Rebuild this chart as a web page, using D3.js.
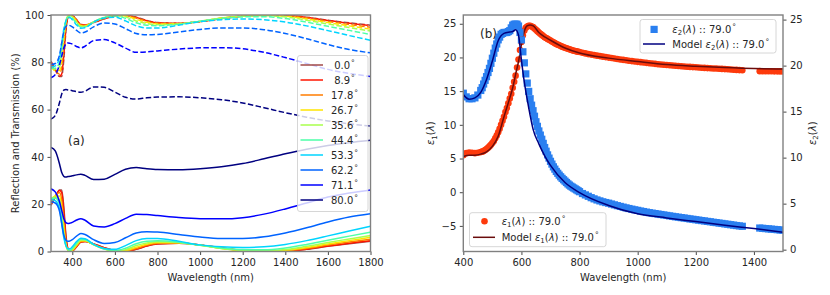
<!DOCTYPE html>
<html>
<head>
<meta charset="utf-8">
<script src="https://cdnjs.cloudflare.com/ajax/libs/d3/7.8.5/d3.min.js"></script>
<style>
body { margin: 0; background: #fff; }
svg { font-family: "DejaVu Sans", sans-serif; font-size: 10px; }
svg text { fill: #262626; }
</style>
</head>
<body>
<svg id="chart" width="830" height="295"></svg>
<script>
// ---------- panel (a): reflection / transmission vs wavelength ----------
var wavelengths = [300, 320, 340, 350, 360, 370, 380, 390, 400, 420, 440, 460, 500, 550, 600, 650, 700, 750, 800, 900, 1000, 1100, 1200, 1300, 1400, 1500, 1600, 1700, 1800];
var angles = [" 0.0", " 8.9", "17.8", "26.7", "35.6", "44.4", "53.3", "62.2", "71.1", "80.0"];
var angleColors = ["#a24a48", "#ff1400", "#ff7d00", "#ffe500", "#a9ff4d", "#4dffa9", "#00d4ff", "#0063ff", "#0000ff", "#000080"];

// transmission (solid)
var trans0  = [19.5, 23, 26, 26, 19, 7, 1, 0, 0.2, 2, 4, 4.2, 3.2, 1.6, 0.4, 0.1, 0.9, 2.3, 3.2, 3.5, 2.8, 1.5, 0.5, 0, 0.1, 0.9, 2.2, 3.3, 4.3];
var trans9  = [20, 23, 25.8, 25, 17, 6, 1, 0, 0.2, 2, 4, 4.2, 3.2, 1.6, 0.4, 0.1, 1, 2.4, 3.3, 3.5, 2.8, 1.5, 0.5, 0.05, 0.1, 1, 2.3, 3.5, 4.5];
var trans18 = [21, 23.5, 25, 22, 13, 4, 0.7, 0, 0.3, 2.3, 4.2, 4.3, 3, 1.3, 0.1, 0.2, 1.3, 2.7, 3.5, 3.6, 2.7, 1.4, 0.4, 0, 0.3, 1.3, 2.7, 4, 5.2];
var trans27 = [22, 23.5, 23.5, 19, 10, 3, 0.5, 0, 0.5, 2.6, 4.5, 4.5, 2.9, 1.1, 0.1, 0.4, 1.8, 3.1, 3.8, 3.7, 2.7, 1.3, 0.4, 0.1, 0.5, 1.7, 3.2, 4.6, 6];
var trans36 = [22, 23, 22, 16, 8, 2.5, 0.5, 0.2, 0.8, 3, 4.8, 4.8, 2.8, 1, 0.2, 0.8, 2.5, 3.6, 4.1, 3.8, 2.6, 1.3, 0.5, 0.3, 0.8, 2.2, 3.8, 5.3, 6.8];
var trans44 = [22.5, 22.5, 20, 14, 7, 2.5, 0.8, 0.6, 1.3, 3.6, 5.2, 5.1, 3, 1, 0.4, 1.4, 3.3, 4.3, 4.5, 3.9, 2.6, 1.5, 0.8, 0.7, 1.5, 3, 4.8, 6.5, 8.2];
var trans53 = [22, 21.5, 18, 12, 6, 2.5, 1.2, 1.2, 2, 4.2, 5.6, 5.4, 3, 1.3, 0.9, 2.5, 4.6, 5.5, 5.5, 4.3, 2.8, 2, 1.7, 2, 3, 4.6, 6.6, 8.7, 10.7];
var trans62 = [21, 20.5, 17, 12, 7, 4.8, 4.3, 4.5, 5, 6.5, 7.6, 7.2, 5, 3.4, 3.8, 5.8, 7.8, 8.4, 8.2, 7.2, 6.1, 5.5, 5.5, 6.2, 7.8, 10, 12.5, 14.6, 16];
var trans71 = [26.5, 25.2, 21, 17.5, 14, 12.2, 11.8, 12, 12.3, 13.3, 13.9, 13.2, 10.8, 10.4, 11.8, 14, 15.8, 15.6, 15.2, 14.4, 13.9, 13.8, 14.3, 15.8, 18, 20.5, 23, 24.7, 26];
var trans80 = [44, 42.5, 37, 33.5, 31.8, 31.5, 31.7, 31.8, 32, 32.4, 32.7, 32.2, 30.4, 30.6, 32.6, 34.8, 35.5, 35, 34.7, 34.6, 35, 35.8, 37.2, 39.2, 41.3, 43.2, 44.8, 46, 47];

// reflection (dashed)
var refl0  = [80.5, 77, 74, 74, 81, 93, 99, 100, 99.8, 98, 96, 95.8, 96.8, 98.4, 99.6, 99.9, 99.1, 97.7, 96.8, 96.5, 97.2, 98.5, 99.5, 100, 99.9, 99.1, 97.8, 96.7, 95.7];
var refl9  = [80, 77, 74.2, 75, 83, 94, 99, 100, 99.8, 98, 96, 95.8, 96.8, 98.4, 99.6, 99.9, 99, 97.6, 96.7, 96.5, 97.2, 98.5, 99.5, 99.95, 99.9, 99, 97.7, 96.5, 95.5];
var refl18 = [79, 76.5, 75, 78, 87, 96, 99.3, 100, 99.7, 97.7, 95.8, 95.7, 97, 98.7, 99.9, 99.8, 98.7, 97.3, 96.5, 96.4, 97.3, 98.6, 99.6, 100, 99.7, 98.7, 97.3, 96, 94.8];
var refl27 = [78, 76.5, 76.5, 81, 90, 97, 99.5, 100, 99.5, 97.4, 95.5, 95.5, 97.1, 98.9, 99.9, 99.6, 98.2, 96.9, 96.2, 96.3, 97.3, 98.7, 99.6, 99.9, 99.5, 98.3, 96.8, 95.4, 94];
var refl36 = [78, 77, 78, 84, 92, 97.5, 99.5, 99.8, 99.2, 97, 95.2, 95.2, 97.2, 99, 99.8, 99.2, 97.5, 96.4, 95.9, 96.2, 97.4, 98.7, 99.5, 99.7, 99.2, 97.8, 96.2, 94.7, 93.2];
var refl44 = [77.5, 77.5, 80, 86, 93, 97.5, 99.2, 99.4, 98.7, 96.4, 94.8, 94.9, 97, 99, 99.6, 98.6, 96.7, 95.7, 95.5, 96.1, 97.4, 98.5, 99.2, 99.3, 98.5, 97, 95.2, 93.5, 91.8];
var refl53 = [78, 78.5, 82, 88, 94, 97.5, 98.8, 98.8, 98, 95.8, 94.4, 94.6, 97, 98.7, 99.1, 97.5, 95.4, 94.5, 94.5, 95.7, 97.2, 98, 98.3, 98, 97, 95.4, 93.4, 91.3, 89.3];
var refl62 = [79, 79.5, 83, 88, 93, 95.2, 95.7, 95.5, 95, 93.5, 92.4, 92.8, 95, 96.6, 96.2, 94.2, 92.2, 91.6, 91.8, 92.8, 93.9, 94.5, 94.5, 93.8, 92.2, 90, 87.5, 85.4, 84];
var refl71 = [73.5, 74.8, 79, 82.5, 86, 87.8, 88.2, 88, 87.7, 86.7, 86.1, 86.8, 89.2, 89.6, 88.2, 86, 84.2, 84.4, 84.8, 85.6, 86.1, 86.2, 85.7, 84.2, 82, 79.5, 77, 75.3, 74];
var refl80 = [56, 57.5, 63, 66.5, 68.2, 68.5, 68.3, 68.2, 68, 67.6, 67.3, 67.8, 69.6, 69.4, 67.4, 65.2, 64.5, 65, 65.3, 65.4, 65, 64.2, 62.8, 60.8, 58.7, 56.8, 55.2, 54, 53];

var transmission = [trans0, trans9, trans18, trans27, trans36, trans44, trans53, trans62, trans71, trans80];
var reflection = [refl0, refl9, refl18, refl27, refl36, refl44, refl53, refl62, refl71, refl80];
var ticksA = [400, 600, 800, 1000, 1200, 1400, 1600, 1800];

// ---------- panel (b): dielectric function ----------
var measWl = [400, 410, 420, 430, 440, 450, 460,
  465, 470, 475, 480, 485, 490, 495, 500, 505, 510, 515, 520, 525, 530, 535, 540,
  545, 550, 555, 560, 565, 570, 575, 580, 585, 590, 595, 600, 605, 610, 615, 620, 625, 630, 635, 640, 645, 650, 655, 660,
  665, 670, 675, 680, 685, 690, 695, 700, 705, 710, 715, 720, 725, 730, 735, 740, 745, 750, 755, 760, 765, 770, 775, 780, 785, 790, 795, 800,
  810, 820, 830, 840, 850, 860, 870,
  880, 890, 900, 910, 920, 930, 940, 950, 960, 970, 980, 990, 1000, 1010, 1020, 1030, 1040, 1050, 1060, 1070, 1080, 1090,
  1100, 1110, 1120, 1130, 1140, 1150, 1160, 1170, 1180, 1190, 1200, 1210, 1220, 1230, 1240, 1250, 1260, 1270, 1280, 1290,
  1300, 1310, 1320, 1330, 1340, 1350, 1360,
  1420, 1430, 1440, 1450, 1460, 1470, 1480, 1490, 1500];
var measEps1 = [5.5, 5.8, 5.9, 5.85, 5.8, 5.85, 5.95,
  6.02, 6.1, 6.25, 6.4, 6.6, 6.8, 7.05, 7.3, 7.6, 8.0, 8.4, 8.9, 9.4, 10.0, 10.6, 11.2,
  11.9, 12.5, 13.2, 13.9, 14.6, 15.5, 16.4, 17.3, 18.5, 19.7, 21.1, 22.3, 23.3, 24.0, 24.4, 24.6, 24.7, 24.7, 24.6, 24.5, 24.3, 24.1, 23.9, 23.7,
  23.52, 23.35, 23.17, 23.0, 22.87, 22.75, 22.62, 22.5, 22.37, 22.25, 22.12, 22.0, 21.9, 21.8, 21.7, 21.6, 21.52, 21.45, 21.37, 21.3, 21.22, 21.15, 21.07, 21.0, 20.95, 20.9, 20.85, 20.8,
  20.7, 20.6, 20.5, 20.42, 20.35, 20.27, 20.2,
  20.12, 20.05, 19.98, 19.91, 19.84, 19.77, 19.7, 19.64, 19.58, 19.52, 19.46, 19.4, 19.35, 19.3, 19.25, 19.2, 19.15, 19.1, 19.05, 19.0, 18.96, 18.92,
  18.88, 18.84, 18.8, 18.76, 18.72, 18.69, 18.66, 18.63, 18.6, 18.57, 18.54, 18.51, 18.48, 18.45, 18.42, 18.4, 18.37, 18.35, 18.32, 18.3,
  18.27, 18.24, 18.21, 18.18, 18.15, 18.12, 18.1,
  17.97, 17.96, 17.96, 17.95, 17.95, 17.94, 17.94, 17.93, 17.93];
var measEps2 = [17.0, 16.6, 16.4, 16.4, 16.5, 16.8, 17.3,
  17.6, 18.0, 18.4, 18.8, 19.25, 19.7, 20.25, 20.8, 21.35, 21.9, 22.35, 22.8, 23.1, 23.4, 23.5, 23.6,
  23.6, 23.6, 23.7, 23.8, 24.1, 24.4, 24.5, 24.5, 24.5, 24.3, 23.6, 22.8, 21.5, 20.3, 19.1, 18.1, 17.2, 16.4, 15.7, 15.1, 14.5, 13.9, 13.4, 12.9,
  12.45, 12.0, 11.55, 11.1, 10.7, 10.3, 9.95, 9.6, 9.3, 9.0, 8.75, 8.5, 8.3, 8.1, 7.92, 7.75, 7.6, 7.45, 7.3, 7.15, 7.02, 6.9, 6.8, 6.7, 6.6, 6.5, 6.4, 6.3,
  6.1, 5.95, 5.8, 5.65, 5.52, 5.4, 5.3,
  5.2, 5.12, 5.05, 4.96, 4.87, 4.78, 4.7, 4.62, 4.54, 4.47, 4.4, 4.33, 4.27, 4.2, 4.14, 4.08, 4.02, 3.97, 3.92, 3.87, 3.82, 3.77,
  3.72, 3.67, 3.62, 3.57, 3.53, 3.48, 3.44, 3.39, 3.34, 3.3, 3.25, 3.21, 3.16, 3.12, 3.07, 3.03, 2.98, 2.94, 2.89, 2.85,
  2.8, 2.76, 2.71, 2.67, 2.62, 2.58, 2.54,
  2.35, 2.32, 2.29, 2.26, 2.23, 2.2, 2.17, 2.14, 2.11];

var modelWl = [400, 420, 440, 460, 480, 500, 520, 540, 560, 570, 580, 590, 600, 610, 620, 630, 640, 660, 680, 700, 750, 800, 900, 1000, 1100, 1200, 1300, 1400, 1500];
var modelEps1 = [5.3, 5.5, 5.5, 5.65, 6.0, 6.8, 8.3, 11.2, 14.0, 15.5, 17.5, 19.4, 21.9, 23.9, 24.7, 24.8, 24.7, 23.7, 23.05, 22.55, 21.4, 20.65, 19.9, 19.4, 18.95, 18.7, 18.5, 18.35, 18.3];
var modelEps2 = [16.85, 16.35, 16.5, 17.1, 18.5, 20.5, 22.7, 23.5, 23.65, 23.7, 23.9, 23.3, 20.6, 18.2, 16.3, 14.6, 13.1, 11.5, 10.2, 9.15, 7.3, 6.2, 4.8, 3.9, 3.45, 3.05, 2.65, 2.3, 1.9];
var ticksB = [400, 600, 800, 1000, 1200, 1400];
var ticksEps1 = [-5, 0, 5, 10, 15, 20, 25];
var ticksEps2 = [0, 5, 10, 15, 20, 25];

var eps1Color = "#fd3a0c", eps2Color = "#2a7ff0";
var model1Color = "#6a0c0c", model2Color = "#000080";

var svg = d3.select("#chart");
var spineColor = "#808080";

function styleAxis(sel) {
    sel.attr("font-family", null).attr("font-size", null);
    sel.select(".domain").remove();
    sel.selectAll(".tick line").attr("stroke", "#333").attr("stroke-width", 0.9);
    sel.selectAll(".tick text").attr("fill", "#262626");
}

function frame(g, w, h) {
    g.append("rect").attr("width", w).attr("height", h)
     .attr("fill", "none").attr("stroke", spineColor).attr("stroke-width", 1.4);
}

// write a label made of pieces: [text, kind] where kind is "", "it", "sub", "sup"
function richText(t, parts) {
    var shift = 0;
    parts.forEach(function(p) {
        var s = t.append("tspan").text(p[0]);
        var target = 0;
        if(p[1] == "it") s.attr("font-style", "italic");
        if(p[1] == "sub") { s.attr("font-size", 7); target = 2.5; }
        if(p[1] == "sup") { s.attr("font-size", 7.5).attr("dx", 1); target = -3.5; }
        if(target != shift) s.attr("dy", target - shift);
        shift = target;
    });
    return t;
}

function epsParts(n, extra) {
    var parts = extra ? [[extra, ""]] : [];
    return parts.concat([["ε", "it"], [String(n), "sub"], ["(", ""], ["λ", "it"], [")", ""]]);
}

// ================= panel (a) =================
var aLeft = 51, aTop = 15, aW = 319.5, aH = 236.5;
var xA = d3.scaleLinear().domain([300, 1800]).range([0, aW]);
var yA = d3.scaleLinear().domain([0, 100]).range([aH, 0]);
var pa = svg.append("g").attr("transform", "translate(" + aLeft + "," + aTop + ")");

svg.append("clipPath").attr("id", "clipA").append("rect").attr("width", aW).attr("height", aH);

var lineA = d3.line()
    .x(function(d, i) { return xA(wavelengths[i]); })
    .y(function(d) { return yA(d); })
    .curve(d3.curveMonotoneX);

var linesA = pa.append("g").attr("clip-path", "url(#clipA)");
angles.forEach(function(a, k) {
    linesA.append("path").attr("d", lineA(reflection[k]))
        .attr("fill", "none").attr("stroke", angleColors[k]).attr("stroke-width", 1.5)
        .attr("stroke-dasharray", "5.5,2.4");
    linesA.append("path").attr("d", lineA(transmission[k]))
        .attr("fill", "none").attr("stroke", angleColors[k]).attr("stroke-width", 1.5);
});

pa.append("g").attr("transform", "translate(0," + aH + ")")
  .call(d3.axisBottom(xA).tickValues(ticksA).tickFormat(d3.format("d")).tickSize(3.5).tickPadding(3.5).tickSizeOuter(0))
  .call(styleAxis);
pa.append("g")
  .call(d3.axisLeft(yA).tickValues([0, 20, 40, 60, 80, 100]).tickSize(3.5).tickPadding(3.5).tickSizeOuter(0))
  .call(styleAxis);
frame(pa, aW, aH);

pa.append("text").attr("x", aW / 2).attr("y", 266).attr("text-anchor", "middle").text("Wavelength (nm)");
svg.append("text").attr("transform", "translate(18.6," + (aTop + aH / 2) + ") rotate(-90)")
   .attr("text-anchor", "middle").text("Reflection and Transmission (%)");
svg.append("text").attr("x", 68).attr("y", 145).attr("font-size", 12).text("(a)");

// legend (a)
var legA = svg.append("g");
legA.append("rect").attr("x", 297.5).attr("y", 55.5).attr("width", 70.5).attr("height", 156)
    .attr("rx", 2.5).attr("fill", "#fff").attr("fill-opacity", 0.8)
    .attr("stroke", "#cccccc").attr("stroke-width", 0.8);
angles.forEach(function(a, k) {
    var cy = 65 + 15 * k;
    legA.append("line").attr("x1", 300.5).attr("x2", 323).attr("y1", cy).attr("y2", cy)
        .attr("stroke", angleColors[k]).attr("stroke-width", 1.5);
    var t = legA.append("text").attr("x", 331).attr("y", cy + 3.6).style("white-space", "pre");
    richText(t, [[a, ""], ["°", "sup"]]);
});

// ================= panel (b) =================
var bLeft = 463.3, bTop = 15, bW = 319.7, bH = 236.5;
var xB = d3.scaleLinear().domain([400, 1500]).range([0, bW]);
var yB1 = d3.scaleLinear().domain([-8.8, 26.3]).range([bH, 0]);
var yB2 = d3.scaleLinear().domain([-0.2, 25.5]).range([bH, 0]);
var pb = svg.append("g").attr("transform", "translate(" + bLeft + "," + bTop + ")");

svg.append("clipPath").attr("id", "clipB").append("rect").attr("width", bW).attr("height", bH);
var plotB = pb.append("g").attr("clip-path", "url(#clipB)");

// eps1 measured + model (left axis)
plotB.append("g").selectAll("circle")
    .data(measEps1).enter().append("circle")
    .attr("cx", function(d, i) { return xB(measWl[i]); })
    .attr("cy", function(d) { return yB1(d); })
    .attr("r", 3.3).attr("fill", eps1Color);
var lineB1 = d3.line()
    .x(function(d, i) { return xB(modelWl[i]); })
    .y(function(d) { return yB1(d); })
    .curve(d3.curveMonotoneX);
plotB.append("path").attr("d", lineB1(modelEps1))
    .attr("fill", "none").attr("stroke", model1Color).attr("stroke-width", 1.5);

// eps2 measured + model (right axis)
plotB.append("g").selectAll("rect")
    .data(measEps2).enter().append("rect")
    .attr("x", function(d, i) { return xB(measWl[i]) - 3.6; })
    .attr("y", function(d) { return yB2(d) - 3.6; })
    .attr("width", 7.2).attr("height", 7.2).attr("fill", eps2Color);
var lineB2 = d3.line()
    .x(function(d, i) { return xB(modelWl[i]); })
    .y(function(d) { return yB2(d); })
    .curve(d3.curveMonotoneX);
plotB.append("path").attr("d", lineB2(modelEps2))
    .attr("fill", "none").attr("stroke", model2Color).attr("stroke-width", 1.5);

pb.append("g").attr("transform", "translate(0," + bH + ")")
  .call(d3.axisBottom(xB).tickValues(ticksB).tickFormat(d3.format("d")).tickSize(3.5).tickPadding(3.5).tickSizeOuter(0))
  .call(styleAxis);
pb.append("g")
  .call(d3.axisLeft(yB1).tickValues(ticksEps1).tickSize(3.5).tickPadding(3.5).tickSizeOuter(0))
  .call(styleAxis);
pb.append("g").attr("transform", "translate(" + bW + ",0)")
  .call(d3.axisRight(yB2).tickValues(ticksEps2).tickSize(3.5).tickPadding(3.5).tickSizeOuter(0))
  .call(styleAxis);
frame(pb, bW, bH);

pb.append("text").attr("x", bW / 2).attr("y", 266).attr("text-anchor", "middle").text("Wavelength (nm)");
richText(svg.append("text").attr("transform", "translate(434," + (bTop + bH / 2) + ") rotate(-90)")
   .attr("text-anchor", "middle"), epsParts(1));
richText(svg.append("text").attr("transform", "translate(815.5," + (bTop + bH / 2) + ") rotate(-90)")
   .attr("text-anchor", "middle"), epsParts(2));
svg.append("text").attr("x", 480).attr("y", 37.7).attr("font-size", 12).text("(b)");

function legendBox(x, y, w, h) {
    svg.append("rect").attr("x", x).attr("y", y).attr("width", w).attr("height", h)
       .attr("rx", 2.5).attr("fill", "#fff").attr("fill-opacity", 0.8)
       .attr("stroke", "#cccccc").attr("stroke-width", 0.8);
}

// legend for eps2 (upper right)
legendBox(640, 19.5, 136, 33.5);
svg.append("rect").attr("x", 650.5).attr("y", 25.8).attr("width", 7.2).attr("height", 7.2).attr("fill", eps2Color);
svg.append("line").attr("x1", 643).attr("x2", 665).attr("y1", 44).attr("y2", 44)
   .attr("stroke", model2Color).attr("stroke-width", 1.5);
richText(svg.append("text").attr("x", 672.3).attr("y", 32.8),
    epsParts(2).concat([[" :: 79.0", ""], ["°", "sup"]]));
richText(svg.append("text").attr("x", 672.3).attr("y", 47.5).style("white-space", "pre"),
    epsParts(2, "Model ").concat([[" :: 79.0", ""], ["°", "sup"]]));

// legend for eps1 (lower left)
legendBox(469.5, 212.7, 136.5, 34);
svg.append("circle").attr("cx", 484.5).attr("cy", 221.3).attr("r", 3.3).attr("fill", eps1Color);
svg.append("line").attr("x1", 473).attr("x2", 495).attr("y1", 237.3).attr("y2", 237.3)
   .attr("stroke", model1Color).attr("stroke-width", 1.5);
richText(svg.append("text").attr("x", 501.7).attr("y", 224.8).style("white-space", "pre"),
    epsParts(1).concat([[" :: 79.0", ""], ["°", "sup"]]));
richText(svg.append("text").attr("x", 501.7).attr("y", 240.8).style("white-space", "pre"),
    epsParts(1, "Model ").concat([[" :: 79.0", ""], ["°", "sup"]]));
</script>
</body>
</html>
